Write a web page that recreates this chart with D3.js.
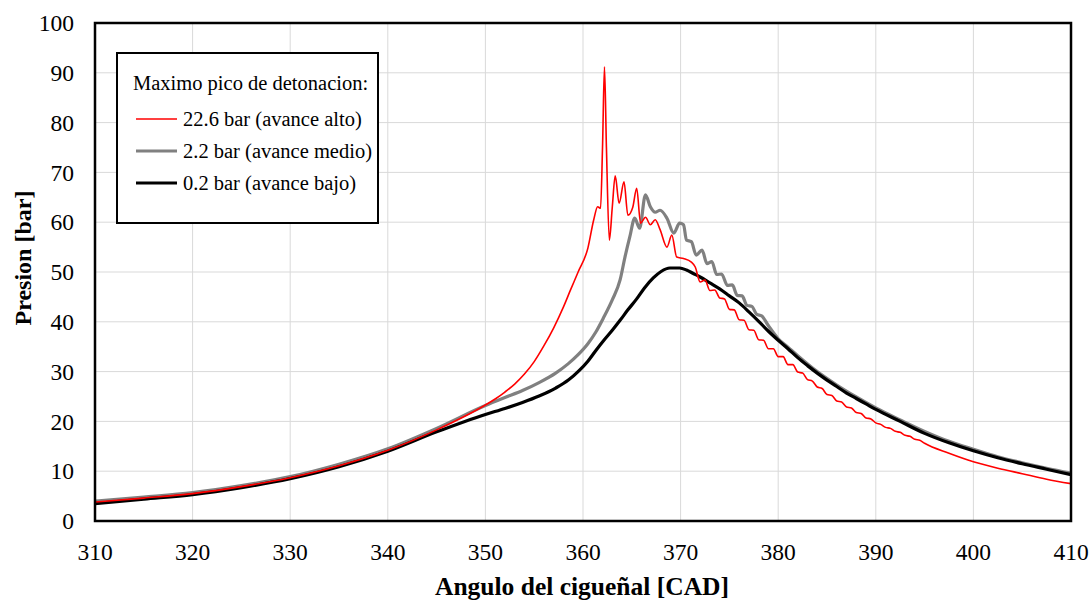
<!DOCTYPE html>
<html>
<head>
    <script src="https://cdnjs.cloudflare.com/ajax/libs/d3/7.8.5/d3.min.js"></script>
    <style>
        body { margin: 0; background: #fff; }
        text { font-family: "Liberation Serif", "Times New Roman", serif; fill: #000; }
        .tick-label { font-size: 23.5px; }
        .axis-title { font-size: 24px; font-weight: bold; }
        .x-title { font-size: 25.5px; }
        .legend text { font-size: 20.5px; }
        .grid line { stroke: #d9d9d9; stroke-width: 1px; }
    </style>
</head>
<body>
    <div id="chart"></div>
    <script>
        const width = 1090, height = 601;
        const margin = { top: 23, right: 19, bottom: 80, left: 95 };

        // tick values
        const xTicks = [310, 320, 330, 340, 350, 360, 370, 380, 390, 400, 410];
        const yTicks = [0, 10, 20, 30, 40, 50, 60, 70, 80, 90, 100];

        // [angle CAD, pressure bar]
        const redData = [
            [310, 3.8], [315, 4.6], [320, 5.5], [325, 6.9], [330, 8.7], [335, 11.1], [340, 14.2],
            [345, 18.3], [350, 23.3], [351, 24.5], [352, 25.9], [353, 27.5], [354, 29.5], [355, 32],
            [356, 35.2], [357, 38.8], [358, 43], [358.7, 46.3], [359.5, 50], [360.5, 54.8],
            [361.1, 60.5], [361.5, 63.1], [361.8, 62.8], [362.0, 75], [362.2, 91.2], [362.4, 75],
            [362.7, 56.4], [363.0, 63], [363.3, 69.3], [363.7, 63.8], [364.2, 68.1], [364.6, 61.4],
            [365.1, 63], [365.5, 66.8], [365.9, 59.8], [366.4, 61], [366.9, 59.5], [367.4, 60.5],
            [367.9, 58.5], [368.6, 55], [369.1, 57.4], [369.6, 53], [370.3, 52.7], [371.1, 52],
            [371.5, 51], [372, 48.0], [372.5, 48.4], [373, 46.3], [373.5, 46.4], [374, 44.8],
            [374.5, 44.6], [375, 42.5], [375.5, 42.4], [376, 40.4], [376.5, 40.3], [377, 38.4],
            [377.5, 38.3], [378, 36.4], [378.5, 36.3], [379, 34.6], [379.5, 34.6], [380, 33.0],
            [380.5, 33.0], [381, 31.4], [381.5, 31.4], [382, 29.9], [382.5, 29.7], [383, 28.4],
            [383.5, 28.1], [384, 26.9], [384.5, 26.6], [385, 25.4], [385.5, 25.2], [386, 24.1],
            [386.5, 23.9], [387, 22.9], [387.5, 22.7], [388, 21.8], [388.5, 21.6], [389, 20.7],
            [389.5, 20.5], [390, 19.7], [390.5, 19.4], [391, 18.8], [391.5, 18.6], [392, 18.0],
            [392.5, 17.8], [393, 17.2], [393.5, 17.0], [394, 16.4], [394.5, 16.2], [395, 15.6],
            [397.5, 13.6], [400, 11.9], [402.5, 10.6], [405, 9.5], [407.5, 8.4], [410, 7.5]
        ];
        const grayData = [
            [310, 4.0], [315, 4.8], [320, 5.7], [325, 7.1], [330, 8.9], [335, 11.4], [340, 14.5],
            [345, 18.6], [350, 23.2], [352, 24.8], [353.8, 26.2], [355.5, 27.8], [357.2, 29.7],
            [358.5, 31.6], [359.5, 33.4], [360.5, 35.6], [361.3, 37.9], [362.1, 40.8], [363, 44.4],
            [363.8, 48.4], [364.3, 53], [364.8, 57.1], [365.3, 60.8], [365.8, 58.8], [366.4, 65.5],
            [366.9, 63.1], [367.4, 62], [367.9, 62.4], [368.6, 60.8], [369.3, 57.8], [369.9, 59.8],
            [370.3, 59.5], [370.6, 56.4], [371.1, 56.1], [371.6, 53.4], [372.2, 54.4], [372.7, 51.7],
            [373.2, 52.1], [373.7, 49.5], [374.2, 49.6], [374.8, 47.3], [375.3, 47.4], [375.8, 45.3],
            [376.3, 45.2], [376.8, 43.3], [377.3, 43.1], [377.8, 41.5], [378.3, 41.2], [379, 39.2],
            [380, 36.6], [381, 34.9], [382, 33.2], [384, 30.0], [386, 27.3], [388, 24.9], [390, 22.7],
            [392.5, 20.3], [395, 18.0], [397.5, 16.0], [400, 14.4], [402.5, 12.9], [405, 11.7],
            [407.5, 10.6], [410, 9.6]
        ];
        const blackData = [
            [310, 3.5], [315, 4.4], [320, 5.3], [325, 6.7], [330, 8.5], [335, 10.9], [340, 14.0],
            [345, 17.9], [350, 21.4], [352, 22.6], [353.8, 23.8], [355.5, 25.1], [357.2, 26.7],
            [358.5, 28.3], [359.6, 30.2], [360.5, 32.1], [361.3, 34.2], [362.1, 36.2], [363, 38.3],
            [363.8, 40.3], [364.6, 42.4], [365.5, 44.6], [366.3, 46.8], [367.2, 48.8], [368, 50.1],
            [368.9, 50.8], [369.9, 50.8], [370.6, 50.4], [371.3, 49.7], [372, 49.0], [373, 47.8],
            [374, 46.6], [375, 45.2], [376, 43.8], [377, 42], [378, 40.1], [379, 38.1], [380, 36.3],
            [381, 34.6], [382, 32.8], [383, 31.2], [384, 29.7], [385, 28.3], [386, 27], [387, 25.7],
            [388, 24.6], [389, 23.5], [390, 22.4], [392.5, 20], [395, 17.6], [397.5, 15.7],
            [400, 14.1], [402.5, 12.7], [405, 11.5], [407.5, 10.4], [410, 9.3]
        ];

        const legendTitle = "Maximo pico de detonacion:";
        const seriesNames = ["22.6 bar (avance alto)", "2.2 bar (avance medio)", "0.2 bar (avance bajo)"];

        const svg = d3.select("#chart").append("svg")
            .attr("width", width).attr("height", height);

        const x = d3.scaleLinear().domain([310, 410]).range([margin.left, width - margin.right]);
        const y = d3.scaleLinear().domain([0, 100]).range([height - margin.bottom, margin.top]);

        // grid
        const grid = svg.append("g").attr("class", "grid");
        grid.selectAll(".vx").data(xTicks.slice(1, -1)).enter().append("line")
            .attr("x1", d => x(d)).attr("x2", d => x(d))
            .attr("y1", y(0)).attr("y2", y(100));
        grid.selectAll(".hy").data(yTicks.slice(1, -1)).enter().append("line")
            .attr("x1", x(310)).attr("x2", x(410))
            .attr("y1", d => y(d)).attr("y2", d => y(d));

        // tick labels
        svg.append("g").selectAll("text").data(xTicks).enter().append("text")
            .attr("class", "tick-label")
            .attr("x", d => x(d)).attr("y", y(0) + 39)
            .attr("text-anchor", "middle")
            .text(d => d);
        svg.append("g").selectAll("text").data(yTicks).enter().append("text")
            .attr("class", "tick-label")
            .attr("x", x(310) - 21).attr("y", d => y(d))
            .attr("dy", "0.35em")
            .attr("text-anchor", "end")
            .text(d => d);

        // lines
        const line = d3.line()
            .x(d => x(d[0])).y(d => y(d[1]))
            .curve(d3.curveMonotoneX);

        const series = [
            { data: grayData, color: "#808080", w: 3.2 },
            { data: blackData, color: "#000000", w: 3.2 },
            { data: redData, color: "#ff0000", w: 1.6 }
        ];
        svg.append("g").selectAll("path").data(series).enter().append("path")
            .attr("d", d => line(d.data))
            .attr("fill", "none")
            .attr("stroke", d => d.color)
            .attr("stroke-width", d => d.w)
            .attr("stroke-linejoin", "round");

        // frame
        svg.append("rect")
            .attr("x", x(310)).attr("y", y(100))
            .attr("width", x(410) - x(310)).attr("height", y(0) - y(100))
            .attr("fill", "none").attr("stroke", "#000").attr("stroke-width", 2.5);

        // axis titles
        svg.append("text").attr("class", "axis-title x-title")
            .attr("x", 582).attr("y", 595)
            .attr("text-anchor", "middle")
            .text("Angulo del cigueñal [CAD]");
        svg.append("text").attr("class", "axis-title")
            .attr("transform", `translate(31,${(y(0) + y(100)) / 2 - 14}) rotate(-90)`)
            .attr("text-anchor", "middle")
            .text("Presion [bar]");

        // legend
        const lg = svg.append("g").attr("class", "legend");
        lg.append("rect")
            .attr("x", 117).attr("y", 53).attr("width", 261).attr("height", 170)
            .attr("fill", "#fff").attr("stroke", "#000").attr("stroke-width", 2);
        lg.append("text").attr("x", 133).attr("y", 90).text(legendTitle);
        const legendColors = ["#ff0000", "#808080", "#000000"];
        const legendWidths = [1.6, 3.2, 3.2];
        seriesNames.forEach((name, i) => {
            const ly = 119 + i * 32;
            lg.append("line")
                .attr("x1", 136).attr("x2", 177).attr("y1", ly).attr("y2", ly)
                .attr("stroke", legendColors[i]).attr("stroke-width", legendWidths[i]);
            lg.append("text").attr("x", 183).attr("y", ly).attr("dy", "0.35em").text(name);
        });
    </script>
</body>
</html>
